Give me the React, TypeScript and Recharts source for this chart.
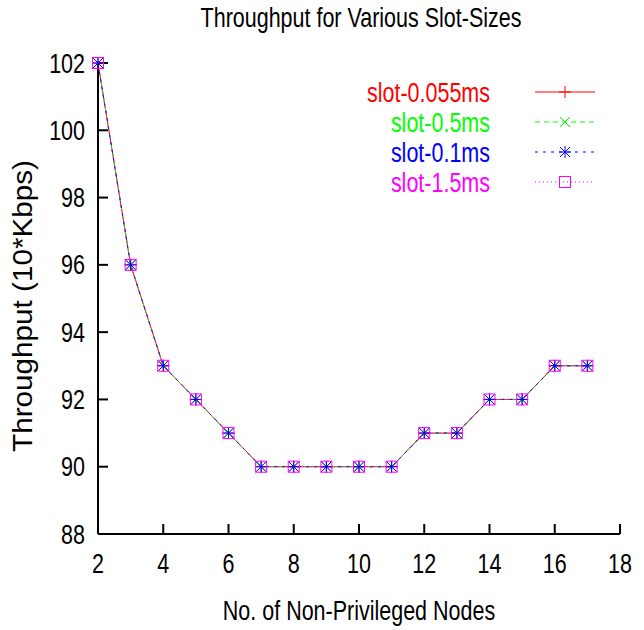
import { LineChart, Line, XAxis, YAxis, Legend } from 'recharts';

const nodes = [2, 3, 4, 5, 6, 7, 8, 9, 10, 11, 12, 13, 14, 15, 16, 17];
const slot0055 = [102, 96, 93, 92, 91, 90, 90, 90, 90, 90, 91, 91, 92, 92, 93, 93];
const slot05 = [102, 96, 93, 92, 91, 90, 90, 90, 90, 90, 91, 91, 92, 92, 93, 93];
const slot01 = [102, 96, 93, 92, 91, 90, 90, 90, 90, 90, 91, 91, 92, 92, 93, 93];
const slot15 = [102, 96, 93, 92, 91, 90, 90, 90, 90, 90, 91, 91, 92, 92, 93, 93];
const xTicks = [2, 4, 6, 8, 10, 12, 14, 16, 18];
const yTicks = [88, 90, 92, 94, 96, 98, 100, 102];

const SANS = '"Liberation Sans", Arial, sans-serif';
const FS = 21.5;
const STRETCH = 1.27;

type Kind = 'plus' | 'cross' | 'star' | 'box';

const SERIES: { key: string; name: string; color: string; dash?: string; kind: Kind }[] = [
  { key: 's0055', name: 'slot-0.055ms', color: '#ff0000', kind: 'plus' },
  { key: 's05', name: 'slot-0.5ms', color: '#00ff00', dash: '5 4', kind: 'cross' },
  { key: 's01', name: 'slot-0.1ms', color: '#0000ff', dash: '3 5', kind: 'star' },
  { key: 's15', name: 'slot-1.5ms', color: '#ff00ff', dash: '1 3', kind: 'box' },
];

const data = nodes.map((n, i) => ({
  n,
  s0055: slot0055[i],
  s05: slot05[i],
  s01: slot01[i],
  s15: slot15[i],
}));

// gnuplot text looks tall and narrow, so stretch regular Liberation Sans vertically
function TallText({ x, y, anchor = 'middle', fill = '#000', children }: any) {
  return (
    <text
      transform={`translate(${x} ${y}) scale(1 ${STRETCH})`}
      textAnchor={anchor}
      fontSize={FS}
      fontFamily={SANS}
      fill={fill}
    >
      {children}
    </text>
  );
}

function XTick({ x, y, payload }: any) {
  return <TallText x={x} y={y + 49}>{payload.value}</TallText>;
}

function YTick({ x, y, payload }: any) {
  return <TallText x={x - 23} y={y + 9.5} anchor="end">{payload.value}</TallText>;
}

function Marker({ cx, cy, color, kind }: { cx: number; cy: number; color: string; kind: Kind }) {
  const r = 6;
  const d = 5;
  return (
    <g stroke={color} strokeWidth={1} fill="none">
      {(kind === 'plus' || kind === 'star') && (
        <>
          <line x1={cx - r} y1={cy} x2={cx + r} y2={cy} />
          <line x1={cx} y1={cy - r} x2={cx} y2={cy + r} />
        </>
      )}
      {(kind === 'cross' || kind === 'star') && (
        <>
          <line x1={cx - d} y1={cy - d} x2={cx + d} y2={cy + d} />
          <line x1={cx - d} y1={cy + d} x2={cx + d} y2={cy - d} />
        </>
      )}
      {kind === 'box' && <rect x={cx - 5.5} y={cy - 5.5} width={11} height={11} />}
    </g>
  );
}

function LegendBox() {
  return (
    <svg width={270} height={130} style={{ overflow: 'visible' }}>
      {SERIES.map((s, i) => {
        const y = 17 + i * 30;
        return (
          <g key={s.key}>
            <TallText x={150} y={y + 10} anchor="end" fill={s.color}>
              {s.name}
            </TallText>
            <line x1={195} y1={y} x2={255} y2={y} stroke={s.color} strokeWidth={1} strokeDasharray={s.dash} />
            <Marker cx={225} cy={y} color={s.color} kind={s.kind} />
          </g>
        );
      })}
    </svg>
  );
}

export default function App() {
  const axisStroke = { stroke: '#000', strokeWidth: 2 };
  return (
    <div style={{ position: 'absolute', left: 0, top: 0, width: 644, height: 630, background: '#fff' }}>
      <LineChart width={644} height={630} data={data} margin={{ top: 63, right: 24, left: 0, bottom: 0 }}>
        <XAxis
          dataKey="n"
          type="number"
          domain={[2, 18]}
          ticks={xTicks}
          height={96}
          axisLine={axisStroke}
          tickLine={axisStroke}
          tickSize={-10}
          tickMargin={0}
          tick={<XTick />}
          interval={0}
        />
        <XAxis
          xAxisId="top"
          dataKey="n"
          type="number"
          orientation="top"
          domain={[2, 18]}
          ticks={xTicks}
          height={0}
          axisLine={axisStroke}
          tickLine={axisStroke}
          tickSize={-10}
          tick={false}
        />
        <YAxis
          type="number"
          domain={[88, 102]}
          ticks={yTicks}
          width={98}
          axisLine={axisStroke}
          tickLine={axisStroke}
          tickSize={-10}
          tickMargin={0}
          tick={<YTick />}
          interval={0}
        />
        <YAxis
          yAxisId="right"
          type="number"
          orientation="right"
          domain={[88, 102]}
          ticks={yTicks}
          width={0}
          axisLine={axisStroke}
          tickLine={axisStroke}
          tickSize={-10}
          tick={false}
        />
        <Legend
          layout="vertical"
          align="center"
          verticalAlign="middle"
          wrapperStyle={{ left: 340, top: 75, width: 270 }}
          content={() => <LegendBox />}
        />
        {SERIES.map((s) => (
          <Line
            key={s.key}
            dataKey={s.key}
            name={s.name}
            type="linear"
            stroke={s.color}
            strokeWidth={1}
            strokeDasharray={s.dash}
            isAnimationActive={false}
            activeDot={false}
            dot={(p: any) => (
              <Marker key={`${s.key}-${p.index}`} cx={p.cx} cy={p.cy} color={s.color} kind={s.kind} />
            )}
          />
        ))}
      </LineChart>
      <svg width={644} height={630} style={{ position: 'absolute', left: 0, top: 0, pointerEvents: 'none' }}>
        <TallText x={361} y={27}>Throughput for Various Slot-Sizes</TallText>
        <TallText x={359} y={620}>No. of Non-Privileged Nodes</TallText>
        <text
          x={0}
          y={0}
          transform="translate(32 306) rotate(-90) scale(1.06 1)"
          textAnchor="middle"
          fontSize={28}
          fontFamily={SANS}
          fill="#000"
        >
          Throughput (10*Kbps)
        </text>
      </svg>
    </div>
  );
}
